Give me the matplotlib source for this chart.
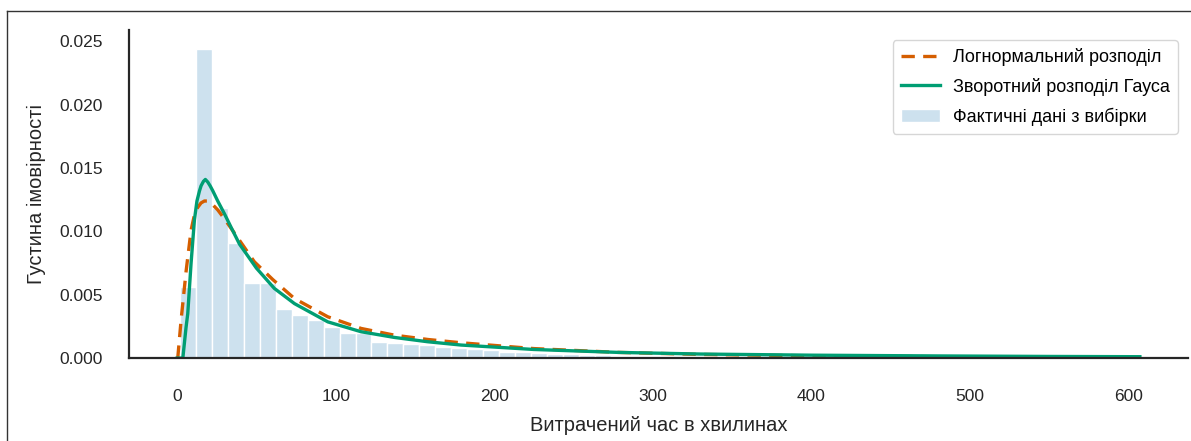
import matplotlib
matplotlib.use("Agg")
import matplotlib.pyplot as plt
from matplotlib.lines import Line2D
import numpy as np

# Гістограма (щільність), 60 бінів
bin_start = 1.7
bin_width = 10.07
hist_density = [
    0.00562, 0.02442, 0.01181, 0.00905, 0.00589, 0.00589, 0.00384, 0.00339,
    0.00300, 0.00247, 0.00195, 0.00195, 0.00129, 0.00121, 0.00110, 0.00100,
    0.00085, 0.00080, 0.00068, 0.00063, 0.00052, 0.00047, 0.00040, 0.00032,
    0.00032, 0.00025, 0.00021, 0.00020, 0.00017, 0.00015, 0.00013, 0.00012,
    0.00010, 0.00009, 0.00008, 0.00007, 0.00006, 0.00005, 0.00005, 0.00004,
    0.00004, 0.00003, 0.00003, 0.00003, 0.00002, 0.00002, 0.00002, 0.00002,
    0.00002, 0.00001, 0.00001, 0.00001, 0.00001, 0.00001, 0.00001, 0.00001,
    0.00001, 0.00001, 0.00001, 0.00001,
]

# Логнормальний розподіл (зчитані точки)
lognorm_x = [0.0, 0.4, 2.5, 5.7, 8.8, 10.9, 13.0, 15.1, 17.2, 19.3, 22.5, 25.6,
             29.8, 39.3, 48.7, 60.3, 74, 95, 116, 137, 158, 179, 225, 278, 330,
             400, 480, 550, 607]
lognorm_y = [0.0, 0.0, 0.0030, 0.0069, 0.0101, 0.0113, 0.0119, 0.01225, 0.0124,
             0.0124, 0.0121, 0.0117, 0.0110, 0.0093, 0.0076, 0.0062, 0.0047,
             0.00326, 0.00234, 0.00181, 0.00147, 0.00121, 0.00075, 0.00045,
             0.00029, 0.00018, 0.00011, 0.00008, 0.00006]

# Зворотний розподіл Гауса (зчитані точки)
invgauss_x = [0.0, 3.6, 5.6, 6.7, 8.8, 10.9, 12.5, 14.1, 15.1, 16.6, 17.8, 19.3,
              20.8, 22.5, 25.6, 29.8, 34.5, 39.3, 50.0, 61.3, 74, 95, 116, 137,
              158, 179, 225, 278, 330, 400, 480, 550, 607]
invgauss_y = [0.0, 0.0, 0.0024, 0.0035, 0.0075, 0.0109, 0.0124, 0.0132, 0.0136,
              0.01395, 0.0141, 0.0139, 0.0136, 0.0132, 0.0124, 0.0114, 0.0102,
              0.0090, 0.0071, 0.0055, 0.0043, 0.00286, 0.00208, 0.00163,
              0.00129, 0.00103, 0.00068, 0.00045, 0.00032, 0.00023, 0.00017,
              0.00013, 0.00011]

plt.rcParams['font.family'] = ['Liberation Sans', 'DejaVu Sans']

fig = plt.figure(figsize=(11.91, 4.41), dpi=100)
ax = fig.add_axes([0.1083, 0.188, 0.8892, 0.744])

lefts = bin_start + bin_width * np.arange(len(hist_density))
ax.bar(lefts, hist_density, width=bin_width, align='edge', color='#cde1ee',
       edgecolor='white', linewidth=1.0, label='Фактичні дані з вибірки')
ax.plot(lognorm_x, lognorm_y, color='#d55e00', lw=2.4, ls=(0, (4, 2.5)),
        label='Логнормальний розподіл')
ax.plot(invgauss_x, invgauss_y, color='#009e73', lw=2.4,
        label='Зворотний розподіл Гауса')

ax.set_xlim(-30.35, 637.35)
ax.set_ylim(0, 0.0259)
ax.set_xticks([0, 100, 200, 300, 400, 500, 600])
ax.set_yticks([0, 0.005, 0.010, 0.015, 0.020, 0.025])
ax.yaxis.set_major_formatter(matplotlib.ticker.FormatStrFormatter('%.3f'))
ax.tick_params(axis='y', length=0, pad=19, labelsize=12.5, colors='#262626')
ax.tick_params(axis='x', length=0, pad=22, labelsize=12.5, colors='#262626')
ax.set_xlabel('Витрачений час в хвилинах', fontsize=14.5, color='#262626', labelpad=9)
ax.set_ylabel('Густина імовірності', fontsize=14.5, color='#262626', labelpad=9)

for s in ['top', 'right']:
    ax.spines[s].set_visible(False)
for s in ['left', 'bottom']:
    ax.spines[s].set_linewidth(1.6)
    ax.spines[s].set_color('#262626')

ax.legend(loc='upper right', fontsize=13, frameon=True, edgecolor='#cccccc',
          handlelength=2.2, handletextpad=0.7, labelspacing=0.65,
          borderpad=0.45, borderaxespad=0.55)

# рамка скріншоту зверху і зліва
fig.add_artist(Line2D([0.0059, 1.0], [0.976, 0.976], color='#333333', lw=1.0))
fig.add_artist(Line2D([0.0059, 0.0059], [0.0, 0.976], color='#333333', lw=1.0))

fig.savefig('out.png', dpi=100)
